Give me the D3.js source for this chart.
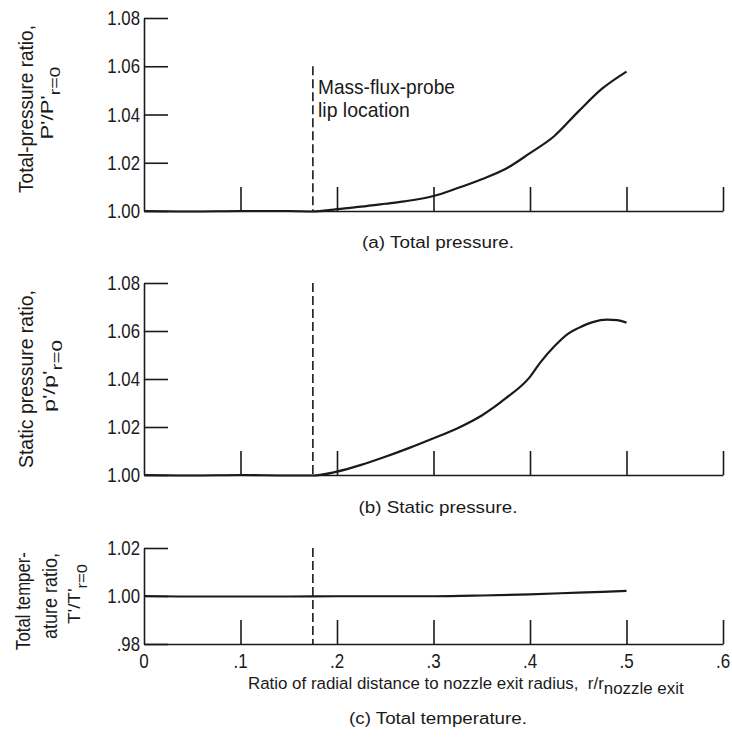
<!DOCTYPE html>
<html>
<head>
<meta charset="utf-8">
<script src="https://cdn.jsdelivr.net/npm/d3@7"></script>
<style>
  body { margin: 0; background: #fff; }
  svg { display: block; }
  text { font-family: 'Liberation Sans', Arial, sans-serif; fill: #1a1a1a; }
  .axis path, .axis line { stroke: #1a1a1a; stroke-width: 1.6; }
</style>
</head>
<body>
<svg id="chart"></svg>
<script>
const rTotalP = [0, 0.05, 0.1, 0.15, 0.175, 0.2, 0.225, 0.25, 0.27, 0.3, 0.325, 0.35, 0.375, 0.4, 0.425, 0.45, 0.475, 0.5];
const totalP = [1.000, 0.9998, 1.000, 1.000, 0.9998, 1.0008, 1.0018, 1.003, 1.004, 1.0062, 1.0095, 1.0132, 1.0175, 1.024, 1.031, 1.0412, 1.0508, 1.0578];

const rStaticP = [0, 0.05, 0.1, 0.15, 0.175, 0.2, 0.225, 0.25, 0.275, 0.3, 0.325, 0.35, 0.375, 0.4, 0.41, 0.425, 0.44, 0.45, 0.465, 0.48, 0.49, 0.5];
const staticP = [1.000, 0.9998, 1.000, 0.9998, 0.9998, 1.0014, 1.0042, 1.0076, 1.0113, 1.0153, 1.0195, 1.0248, 1.032, 1.0409, 1.0465, 1.0535, 1.059, 1.0612, 1.0637, 1.0647, 1.0645, 1.0635];

const rTotalT = [0, 0.05, 0.1, 0.15, 0.2, 0.25, 0.3, 0.35, 0.4, 0.45, 0.5];
const totalT = [1.000, 0.9998, 0.9998, 0.9998, 0.9999, 0.9999, 0.9999, 1.0002, 1.0007, 1.0014, 1.0021];

const lipR = 0.175;

const xTicks = [0, 0.1, 0.2, 0.3, 0.4, 0.5, 0.6];
const xTickLabels = ['0', '.1', '.2', '.3', '.4', '.5', '.6'];
const pTicks = [1.00, 1.02, 1.04, 1.06, 1.08];
const pTickLabels = ['1.00', '1.02', '1.04', '1.06', '1.08'];
const tTicks = [0.98, 1.00, 1.02];
const tTickLabels = ['.98', '1.00', '1.02'];

const width = 732;
const height = 738;

const svg = d3.select('#chart')
  .attr('width', width)
  .attr('height', height);

const x = d3.scaleLinear().domain([0, 0.6]).range([144, 723]);

// the original lettering is a condensed face; squeeze a normal one to fit
function label(o) {
  const g = svg.append('g')
    .attr('transform', `translate(${o.x},${o.y}) rotate(${o.rotate || 0})`);
  const t = g.append('text')
    .attr('text-anchor', o.anchor || 'start')
    .style('font-size', o.size + 'px');
  o.parts.forEach(p => {
    const s = t.append('tspan').text(p.text);
    if (p.dy) s.attr('dy', p.dy);
    if (p.size) s.style('font-size', p.size + 'px');
  });
  const w = t.node().getComputedTextLength();
  const k = o.width ? o.width / w : (o.squeeze || 1);
  t.attr('transform', `scale(${k},1)`);
  return t;
}

function squeezeTicks(sel, k) {
  sel.selectAll('text').each(function () {
    const xx = +this.getAttribute('x') || 0;
    this.setAttribute('x', 0);
    this.setAttribute('transform', `translate(${xx},0) scale(${k},1)`);
  });
}

const panels = [
  { r: rTotalP, v: totalP, domain: [1.00, 1.08], range: [211, 18], ticks: pTicks, labels: pTickLabels, dashTop: 1.06,
    caption: '(a) Total pressure.', captionY: 248, captionW: 152 },
  { r: rStaticP, v: staticP, domain: [1.00, 1.08], range: [475, 283], ticks: pTicks, labels: pTickLabels, dashTop: 1.08,
    caption: '(b) Static pressure.', captionY: 513, captionW: 159 },
  { r: rTotalT, v: totalT, domain: [0.98, 1.02], range: [644, 548], ticks: tTicks, labels: tTickLabels, dashTop: 1.02,
    caption: '(c) Total temperature.', captionY: 724, captionW: 178 }
];

panels.forEach(p => {
  const y = d3.scaleLinear().domain(p.domain).range(p.range);
  const g = svg.append('g');

  // y axis, ticks pointing inward
  g.append('g')
    .attr('class', 'axis')
    .attr('transform', `translate(${x(0)},0)`)
    .call(d3.axisLeft(y)
      .tickValues(p.ticks)
      .tickSize(-24)
      .tickSizeOuter(0)
      .tickPadding(4)
      .tickFormat((d, k) => p.labels[k]))
    .call(s => s.selectAll('text').style('font-size', '21px').attr('fill', '#1a1a1a'))
    .call(s => squeezeTicks(s, 0.8));

  // x axis, ticks pointing up
  g.append('g')
    .attr('class', 'axis')
    .attr('transform', `translate(0,${y.range()[0]})`)
    .call(d3.axisBottom(x)
      .tickValues(xTicks.slice(1))
      .tickSize(-24)
      .tickSizeOuter(0)
      .tickFormat(''));

  // probe lip location
  g.append('line')
    .attr('x1', x(lipR)).attr('x2', x(lipR))
    .attr('y1', y(p.dashTop)).attr('y2', y.range()[0])
    .attr('stroke', '#1a1a1a')
    .attr('stroke-width', 1.6)
    .attr('stroke-dasharray', '9,4');

  const line = d3.line()
    .x((d, k) => x(p.r[k]))
    .y(d => y(d))
    .curve(d3.curveMonotoneX);

  g.append('path')
    .datum(p.v)
    .attr('d', line)
    .attr('fill', 'none')
    .attr('stroke', '#1a1a1a')
    .attr('stroke-width', 2.2);

  label({ x: 438, y: p.captionY, anchor: 'middle', size: 16, width: p.captionW, parts: [{ text: p.caption }] });
});

// x tick labels under bottom panel
xTicks.forEach((d, k) => {
  label({ x: x(d), y: 668, anchor: 'middle', size: 20, squeeze: 0.85, parts: [{ text: xTickLabels[k] }] });
});

// x axis title
label({
  x: 248, y: 689, size: 17, width: 436,
  parts: [
    { text: 'Ratio of radial distance to nozzle exit radius,\u00a0\u00a0r/r' },
    { text: 'nozzle exit', dy: 5 }
  ]
});

// annotation
label({ x: 318, y: 94, size: 20, width: 137, parts: [{ text: 'Mass-flux-probe' }] });
label({ x: 318, y: 117, size: 20, width: 92, parts: [{ text: 'lip location' }] });

// y axis titles, rotated
label({ x: 33, y: 109, rotate: -90, anchor: 'middle', size: 21, width: 168, parts: [{ text: 'Total-pressure ratio,' }] });
label({ x: 53, y: 103, rotate: -90, anchor: 'middle', size: 17, width: 73,
  parts: [{ text: "P'/P'" }, { text: 'r=0', dy: 7, size: 15 }] });

label({ x: 33, y: 379, rotate: -90, anchor: 'middle', size: 21, width: 178, parts: [{ text: 'Static pressure ratio,' }] });
label({ x: 55, y: 376, rotate: -90, anchor: 'middle', size: 17, width: 72,
  parts: [{ text: "p'/p'" }, { text: 'r=0', dy: 7, size: 15 }] });

label({ x: 30, y: 601, rotate: -90, anchor: 'middle', size: 21, width: 98, parts: [{ text: 'Total temper-' }] });
label({ x: 57, y: 596, rotate: -90, anchor: 'middle', size: 21, width: 86, parts: [{ text: 'ature ratio,' }] });
label({ x: 80, y: 594, rotate: -90, anchor: 'middle', size: 17, width: 60,
  parts: [{ text: "T'/T'" }, { text: 'r=0', dy: 7, size: 15 }] });
</script>
</body>
</html>
